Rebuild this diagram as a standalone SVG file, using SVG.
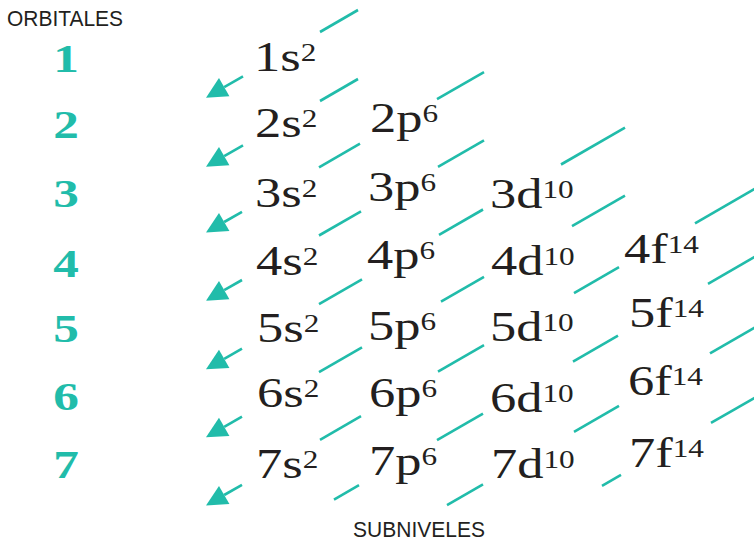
<svg xmlns="http://www.w3.org/2000/svg" width="754" height="542" viewBox="0 0 754 542">
<style>
.ttl{font-family:"Liberation Sans",Arial,sans-serif;font-size:22px;fill:#231f20}
.num{font-family:"Liberation Serif","Times New Roman",serif;font-weight:bold;font-size:41px;fill:#21bcaa;text-anchor:middle}
.lbl{font-family:"Liberation Serif","Times New Roman",serif;font-size:42px;fill:#231f20}
.sup{font-size:25px}
.seg{stroke:#21bcaa;stroke-width:2.6;fill:none}
.arr{stroke:#21bcaa;stroke-width:2.6;fill:none;marker-end:url(#ah)}
</style>
<defs>
<marker id="ah" markerUnits="userSpaceOnUse" markerWidth="22" markerHeight="22" refX="0" refY="10.5" orient="auto" overflow="visible">
<path d="M0,0 L21,10.5 L0,21 Z" fill="#21bcaa"/>
</marker>
</defs>
<rect width="754" height="542" fill="#ffffff"/>
<g id="titles">
<text id="orbitales" class="ttl" x="7" y="26" textLength="116" lengthAdjust="spacingAndGlyphs">ORBITALES</text>
<text id="subniveles" class="ttl" x="353" y="537" textLength="132" lengthAdjust="spacingAndGlyphs">SUBNIVELES</text>
</g>
<g id="orbitals">
<text id="n1" class="num" transform="translate(66,72) scale(1.25,1)">1</text>
<text id="n2" class="num" transform="translate(66,138) scale(1.25,1)">2</text>
<text id="n3" class="num" transform="translate(66,207) scale(1.25,1)">3</text>
<text id="n4" class="num" transform="translate(66,277) scale(1.25,1)">4</text>
<text id="n5" class="num" transform="translate(66,342) scale(1.25,1)">5</text>
<text id="n6" class="num" transform="translate(66,410) scale(1.25,1)">6</text>
<text id="n7" class="num" transform="translate(66,478) scale(1.25,1)">7</text>
</g>
<g id="connectors">
<line class="seg" x1="320" y1="32" x2="358" y2="10"/>
<line class="arr" x1="243" y1="76.4" x2="224.2" y2="87.2"/>
<line class="seg" x1="320" y1="101" x2="358" y2="79"/>
<line class="arr" x1="243" y1="145.4" x2="224.2" y2="156.2"/>
<line class="seg" x1="437" y1="99.2" x2="484" y2="72.1"/>
<line class="seg" x1="319" y1="167.3" x2="360" y2="143.7"/>
<line class="arr" x1="242" y1="211.8" x2="224.2" y2="222"/>
<line class="seg" x1="438" y1="166.9" x2="484" y2="140.3"/>
<line class="seg" x1="319" y1="235.5" x2="361" y2="211.3"/>
<line class="arr" x1="242" y1="280" x2="224.2" y2="290.2"/>
<line class="seg" x1="561" y1="164.5" x2="625" y2="127.6"/>
<line class="seg" x1="439" y1="234.9" x2="483" y2="209.5"/>
<line class="seg" x1="319" y1="304.1" x2="362" y2="279.3"/>
<line class="arr" x1="242" y1="348.6" x2="224.2" y2="358.8"/>
<line class="seg" x1="572" y1="226.2" x2="625" y2="195.6"/>
<line class="seg" x1="441" y1="301.7" x2="484" y2="276.9"/>
<line class="seg" x1="319" y1="372.1" x2="362" y2="347.3"/>
<line class="arr" x1="242" y1="416.6" x2="224.2" y2="426.8"/>
<line class="seg" x1="695" y1="223.4" x2="756" y2="188.2"/>
<line class="seg" x1="574" y1="293.2" x2="619" y2="267.2"/>
<line class="seg" x1="438" y1="371.7" x2="484" y2="345.1"/>
<line class="seg" x1="320" y1="439.8" x2="361" y2="416.1"/>
<line class="arr" x1="242" y1="484.8" x2="224.2" y2="495"/>
<line class="seg" x1="708" y1="283.8" x2="756" y2="256.1"/>
<line class="seg" x1="573" y1="361.7" x2="618" y2="335.7"/>
<line class="seg" x1="437" y1="440.1" x2="483" y2="413.6"/>
<line class="seg" x1="334" y1="499.6" x2="359" y2="485.2"/>
<line class="seg" x1="710" y1="353.4" x2="756" y2="326.9"/>
<line class="seg" x1="574" y1="431.9" x2="619" y2="405.9"/>
<line class="seg" x1="447" y1="505.2" x2="483" y2="484.4"/>
<line class="seg" x1="711" y1="422.9" x2="756" y2="397"/>
<line class="seg" x1="602" y1="485.8" x2="621" y2="474.9"/>
</g>
<g id="sublevels">
<text id="s1s" class="lbl" transform="translate(254,71) scale(1.25,1)">1s<tspan class="sup" dy="-10">2</tspan></text>
<text id="s2s" class="lbl" transform="translate(255,137) scale(1.25,1)">2s<tspan class="sup" dy="-10">2</tspan></text>
<text id="s2p" class="lbl" transform="translate(370,132) scale(1.25,1)">2p<tspan class="sup" dy="-10">6</tspan></text>
<text id="s3s" class="lbl" transform="translate(255,207) scale(1.25,1)">3s<tspan class="sup" dy="-10">2</tspan></text>
<text id="s3p" class="lbl" transform="translate(368,201) scale(1.25,1)">3p<tspan class="sup" dy="-10">6</tspan></text>
<text id="s3d" class="lbl" transform="translate(490,208) scale(1.25,1)">3d<tspan class="sup" dy="-10">10</tspan></text>
<text id="s4s" class="lbl" transform="translate(256,275) scale(1.25,1)">4s<tspan class="sup" dy="-10">2</tspan></text>
<text id="s4p" class="lbl" transform="translate(367,269) scale(1.25,1)">4p<tspan class="sup" dy="-10">6</tspan></text>
<text id="s4d" class="lbl" transform="translate(491,275) scale(1.25,1)">4d<tspan class="sup" dy="-10">10</tspan></text>
<text id="s4f" class="lbl" transform="translate(624,263) scale(1.25,1)">4f<tspan class="sup" dy="-10">14</tspan></text>
<text id="s5s" class="lbl" transform="translate(257,342) scale(1.25,1)">5s<tspan class="sup" dy="-10">2</tspan></text>
<text id="s5p" class="lbl" transform="translate(368,340) scale(1.25,1)">5p<tspan class="sup" dy="-10">6</tspan></text>
<text id="s5d" class="lbl" transform="translate(490,341) scale(1.25,1)">5d<tspan class="sup" dy="-10">10</tspan></text>
<text id="s5f" class="lbl" transform="translate(629,327) scale(1.25,1)">5f<tspan class="sup" dy="-10">14</tspan></text>
<text id="s6s" class="lbl" transform="translate(257,407) scale(1.25,1)">6s<tspan class="sup" dy="-10">2</tspan></text>
<text id="s6p" class="lbl" transform="translate(369,407) scale(1.25,1)">6p<tspan class="sup" dy="-10">6</tspan></text>
<text id="s6d" class="lbl" transform="translate(490,412) scale(1.25,1)">6d<tspan class="sup" dy="-10">10</tspan></text>
<text id="s6f" class="lbl" transform="translate(628,395) scale(1.25,1)">6f<tspan class="sup" dy="-10">14</tspan></text>
<text id="s7s" class="lbl" transform="translate(256,478) scale(1.25,1)">7s<tspan class="sup" dy="-10">2</tspan></text>
<text id="s7p" class="lbl" transform="translate(369,475) scale(1.25,1)">7p<tspan class="sup" dy="-10">6</tspan></text>
<text id="s7d" class="lbl" transform="translate(491,478) scale(1.25,1)">7d<tspan class="sup" dy="-10">10</tspan></text>
<text id="s7f" class="lbl" transform="translate(629,467) scale(1.25,1)">7f<tspan class="sup" dy="-10">14</tspan></text>
</g>
</svg>
